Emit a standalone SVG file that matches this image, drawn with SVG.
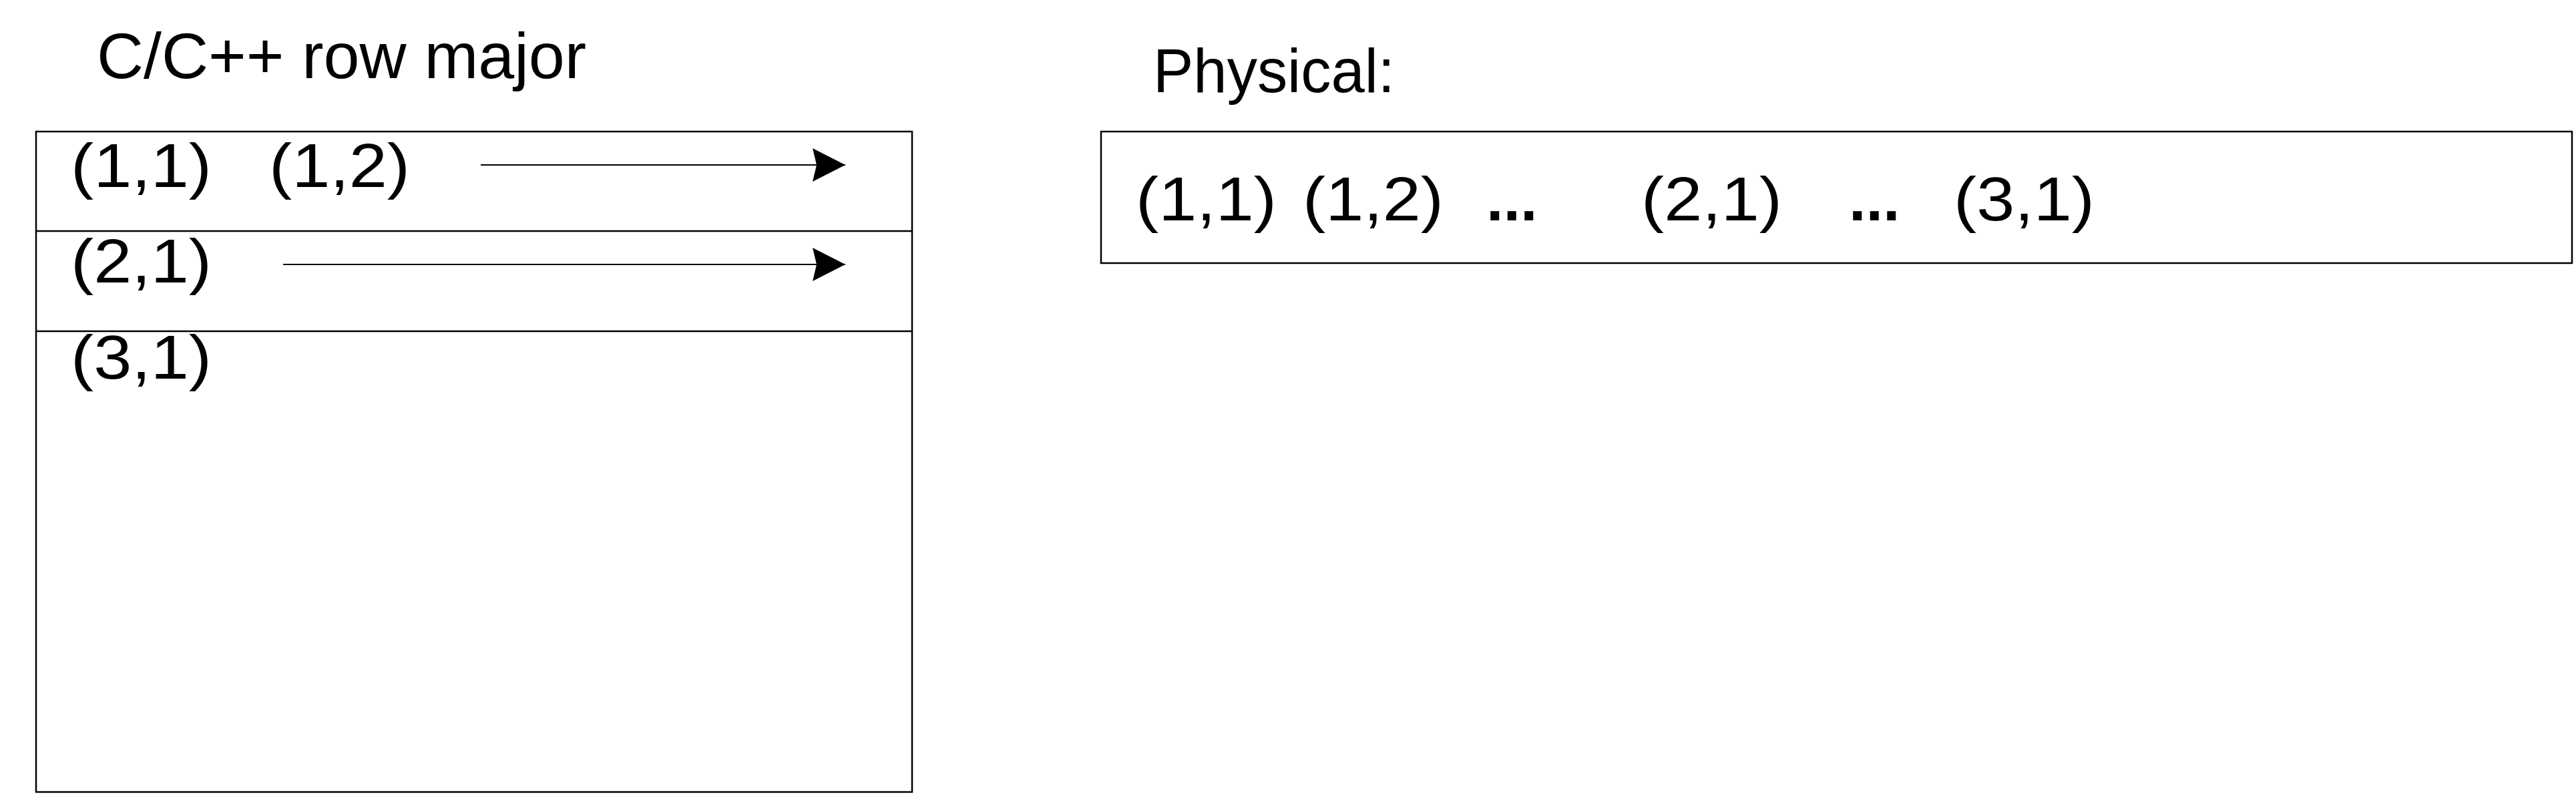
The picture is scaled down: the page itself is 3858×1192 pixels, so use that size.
<svg xmlns="http://www.w3.org/2000/svg" width="3858" height="1192" viewBox="0 0 3858 1192">
<style>
.t{font-family:"Liberation Sans",Arial,sans-serif;fill:#000}
.lbl{font-size:97px}
.cell{font-size:92px}
.dots{font-size:92px;font-weight:bold}
.box{fill:#fff;stroke:#000;stroke-width:2.5}
.sep{stroke:#000;stroke-width:2.5;fill:none}
.arr{stroke:#000;stroke-width:2;fill:none;marker-end:url(#ah)}
</style>
<defs>
<marker id="ah" markerUnits="userSpaceOnUse" markerWidth="60" markerHeight="60" refX="49" refY="25" orient="auto">
<path d="M0,0 L49,25 L0,50 L6,25 Z" fill="#000"/>
</marker>
</defs>
<rect width="3858" height="1192" fill="#fff"/>
<g id="title-left"><text class="t lbl" x="145" y="117">C/C++ row major</text></g>
<g id="title-right"><text class="t lbl" x="1727" y="138" style="font-size:93px" textLength="362" lengthAdjust="spacingAndGlyphs">Physical:</text></g>
<g id="matrix">
<rect class="box" x="54" y="197" width="1312" height="989"/>
<line class="sep" x1="54" y1="346" x2="1366" y2="346"/>
<line class="sep" x1="54" y1="496" x2="1366" y2="496"/>
<text class="t cell" x="106" y="280" textLength="211" lengthAdjust="spacingAndGlyphs">(1,1)</text>
<text class="t cell" x="403" y="280" textLength="211" lengthAdjust="spacingAndGlyphs">(1,2)</text>
<text class="t cell" x="106" y="423" textLength="211" lengthAdjust="spacingAndGlyphs">(2,1)</text>
<text class="t cell" x="106" y="567" textLength="211" lengthAdjust="spacingAndGlyphs">(3,1)</text>
</g>
<g id="physical">
<rect class="box" x="1649" y="197" width="2203" height="197"/>
<text class="t cell" x="1701" y="330" textLength="211" lengthAdjust="spacingAndGlyphs">(1,1)</text>
<text class="t cell" x="1951" y="330" textLength="211" lengthAdjust="spacingAndGlyphs">(1,2)</text>
<text class="t dots" x="2226" y="330">...</text>
<text class="t cell" x="2458" y="330" textLength="211" lengthAdjust="spacingAndGlyphs">(2,1)</text>
<text class="t dots" x="2769" y="330">...</text>
<text class="t cell" x="2926" y="330" textLength="211" lengthAdjust="spacingAndGlyphs">(3,1)</text>
</g>
<g id="connectors">
<line class="arr" x1="720" y1="247" x2="1266" y2="247"/>
<line class="arr" x1="424" y1="396" x2="1266" y2="396"/>
</g>
</svg>
